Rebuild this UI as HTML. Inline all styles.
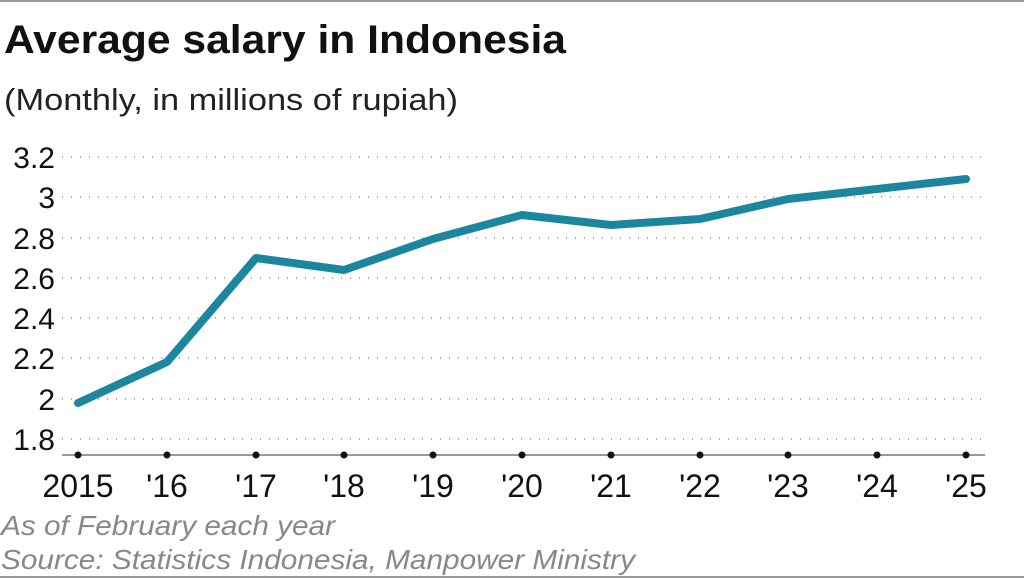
<!DOCTYPE html>
<html><head><style>
body{margin:0;background:#fff;}
svg{display:block;}
</style></head><body>
<svg width="1024" height="578" viewBox="0 0 1024 578" xmlns="http://www.w3.org/2000/svg" font-family="Liberation Sans, Arial, sans-serif">
<rect x="0" y="0" width="1024" height="578" fill="#fff"/>
<line x1="0" y1="1" x2="1024" y2="1" stroke="#999" stroke-width="2"/>
<line x1="0" y1="577" x2="1024" y2="577" stroke="#999" stroke-width="2"/>
<text x="4" y="53" font-size="40" font-weight="bold" fill="#111" textLength="562" lengthAdjust="spacingAndGlyphs">Average salary in Indonesia</text>
<text x="4" y="110" font-size="31" fill="#222" textLength="454" lengthAdjust="spacingAndGlyphs">(Monthly, in millions of rupiah)</text>
<g stroke="#aaa" stroke-width="2" stroke-dasharray="1 8">
<line x1="62" y1="157" x2="985" y2="157"/>
<line x1="62" y1="197" x2="985" y2="197"/>
<line x1="62" y1="238" x2="985" y2="238"/>
<line x1="62" y1="278" x2="985" y2="278"/>
<line x1="62" y1="318" x2="985" y2="318"/>
<line x1="62" y1="358" x2="985" y2="358"/>
<line x1="62" y1="399" x2="985" y2="399"/>
<line x1="62" y1="439" x2="985" y2="439"/>
</g>
<g font-size="30" fill="#111" text-anchor="end">
<text x="55" y="168">3.2</text>
<text x="55" y="208">3</text>
<text x="55" y="249">2.8</text>
<text x="55" y="289">2.6</text>
<text x="55" y="329">2.4</text>
<text x="55" y="369">2.2</text>
<text x="55" y="410">2</text>
<text x="55" y="450">1.8</text>
</g>
<line x1="62" y1="455" x2="985" y2="455" stroke="#999" stroke-width="2"/>
<g fill="#111">
<circle cx="78" cy="455" r="3.5"/><circle cx="167" cy="455" r="3.5"/><circle cx="256" cy="455" r="3.5"/><circle cx="344" cy="455" r="3.5"/><circle cx="433" cy="455" r="3.5"/><circle cx="522" cy="455" r="3.5"/><circle cx="611" cy="455" r="3.5"/><circle cx="700" cy="455" r="3.5"/><circle cx="788" cy="455" r="3.5"/><circle cx="877" cy="455" r="3.5"/><circle cx="966" cy="455" r="3.5"/>
</g>
<g font-size="32" fill="#111" text-anchor="middle">
<text x="78" y="497">2015</text><text x="167" y="497">'16</text><text x="256" y="497">'17</text><text x="344" y="497">'18</text><text x="433" y="497">'19</text><text x="522" y="497">'20</text><text x="611" y="497">'21</text><text x="700" y="497">'22</text><text x="788" y="497">'23</text><text x="877" y="497">'24</text><text x="966" y="497">'25</text>
</g>
<polyline fill="none" stroke="#1b869e" stroke-width="8" stroke-linecap="round" stroke-linejoin="round"
points="78,403 167,362 256,258 344,270 433,239 522,215 611,225 700,219 788,199 877,189 966,179"/>
<text x="1" y="535" font-size="28" font-style="italic" fill="#888" textLength="334" lengthAdjust="spacingAndGlyphs">As of February each year</text>
<text x="1" y="569" font-size="28" font-style="italic" fill="#888" textLength="634" lengthAdjust="spacingAndGlyphs">Source: Statistics Indonesia, Manpower Ministry</text>
</svg>
</body></html>
